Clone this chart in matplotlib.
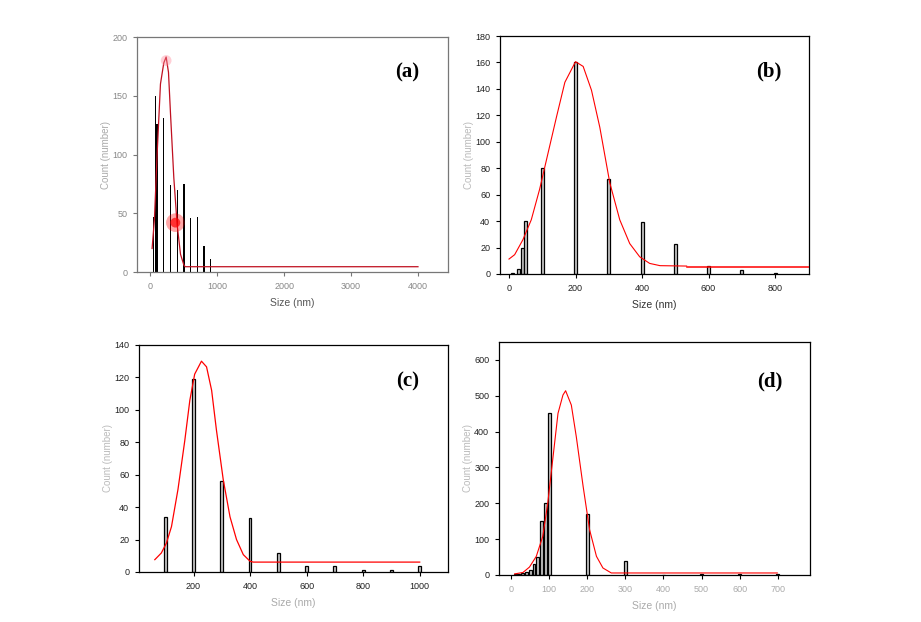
import numpy as np
import matplotlib
matplotlib.use("Agg")
import matplotlib.pyplot as plt

# ---- data ----
# (a)
a_size = [50, 75, 100, 200, 300, 400, 500, 600, 700, 800, 900]
a_count = [47, 150, 126, 131, 74, 70, 75, 46, 47, 22, 11]
a_fit_x = [25, 60, 100, 150, 200, 235, 270, 300, 350, 400, 450, 500, 520, 4000]
a_fit_y = [20, 45, 100, 160, 178, 183, 170, 135, 80, 40, 15, 6, 4.5, 4.5]

# (b)
b_size = [10, 30, 40, 50, 100, 200, 300, 400, 500, 600, 700, 800]
b_count = [1, 4, 20, 40, 80, 160, 72, 39, 23, 6, 3, 1]
b_fit_x = [0, 17, 42, 67, 92, 117, 143, 168, 200, 223, 248, 273, 303, 333,
           363, 393, 423, 454, 534]
b_fit_y = [11.3, 14.6, 26, 41, 64, 91, 119, 145, 160.6, 157, 139, 111, 69,
           41, 23, 13, 8, 6.3, 6]
b_tail_x = [534, 903]
b_tail_y = [5.3, 5.3]

# (c)
c_size = [100, 200, 300, 400, 500, 600, 700, 800, 900, 1000]
c_count = [34, 119, 56, 33, 12, 4, 4, 1.5, 1.5, 3.5]
c_fit_x = [63, 86, 104, 122, 145, 169, 187, 204, 228, 246, 264, 281, 305,
           329, 352, 376, 400, 411, 1000]
c_fit_y = [7.6, 11.7, 17.8, 28, 51, 81, 106, 122, 130, 126.5, 112, 87.5, 57,
           34, 20, 10.7, 6.6, 6.1, 6.1]

# (d)
d_size = [10, 20, 30, 40, 50, 60, 70, 80, 90, 100, 200, 300, 400, 500, 600, 700]
d_count = [3, 4, 5, 8, 15, 31, 50, 150, 200, 453, 170, 40, 1, 2, 2, 2]
d_fit_x = [9, 31, 48, 66, 83, 96, 110, 123, 136, 143, 158, 171, 189, 206,
           224, 241, 263, 699]
d_fit_y = [3, 7, 22, 52, 108, 200, 330, 451, 502, 514, 474, 386, 247, 126,
           52, 19.5, 5.6, 5.6]

plt.rcParams['font.family'] = ['Liberation Sans', 'DejaVu Sans']

fig = plt.figure(figsize=(9.21, 6.22), dpi=100)

def setup(ax, tick_col, xlab_col, ylab_col, spine_col='black'):
    for s in ax.spines.values():
        s.set_color(spine_col)
        s.set_linewidth(0.9)
    ax.tick_params(direction='out', length=3, width=0.8, labelsize=6.5,
                   pad=4, colors=spine_col)
    for lab in ax.get_xticklabels() + ax.get_yticklabels():
        lab.set_color(tick_col)
    ax.set_xlabel('Size (nm)', fontsize=7.5, color=xlab_col, labelpad=5)
    ax.set_ylabel('Count (number)', fontsize=7, color=ylab_col, labelpad=1)

def panel_tag(ax, txt, y=0.84):
    ax.text(0.87, y, txt, transform=ax.transAxes, fontsize=15,
            fontweight='bold', family='Liberation Serif', ha='center', va='center')

# (a)
ax = fig.add_axes([0.1488, 0.5627, 0.3377, 0.3778])
ax.bar(a_size, a_count, width=20, color='black', edgecolor='none', zorder=2)
ax.plot(a_fit_x, a_fit_y, color='#c01020', lw=0.9, zorder=3)
ax.scatter([373], [42], s=180, color='red', alpha=0.35, edgecolors='none', zorder=4)
ax.scatter([373], [42], s=50, color='red', alpha=0.7, edgecolors='none', zorder=4)
ax.scatter([235], [180], s=60, color='#ff8899', alpha=0.4, edgecolors='none', zorder=4)
ax.set_xlim(-200, 4450)
ax.set_ylim(0, 200)
ax.set_xticks([0, 1000, 2000, 3000, 4000])
ax.set_yticks([0, 50, 100, 150, 200])
setup(ax, '#888888', '#555555', '#aaaaaa', spine_col='#777777')
panel_tag(ax, '(a)', 0.85)

# (b)
ax = fig.add_axes([0.5429, 0.5595, 0.3355, 0.3826])
ax.bar(b_size, b_count, width=9, color='#c8c8c8', edgecolor='black', lw=0.9, zorder=2)
ax.plot(b_fit_x, b_fit_y, color='red', lw=0.8, zorder=3)
ax.plot(b_tail_x, b_tail_y, color='red', lw=1.1, zorder=3)
ax.set_xlim(-27, 902)
ax.set_ylim(0, 180)
ax.set_xticks([0, 200, 400, 600, 800])
ax.set_yticks(range(0, 181, 20))
setup(ax, '#222222', '#333333', '#bbbbbb')
panel_tag(ax, '(b)', 0.85)

# (c)
ax = fig.add_axes([0.1509, 0.0804, 0.3355, 0.365])
ax.bar(c_size, c_count, width=10, color='#c8c8c8', edgecolor='black', lw=0.9, zorder=2)
ax.plot(c_fit_x, c_fit_y, color='red', lw=0.9, zorder=3)
ax.set_xlim(7, 1100)
ax.set_ylim(0, 140)
ax.set_xticks([200, 400, 600, 800, 1000])
ax.set_yticks(range(0, 141, 20))
setup(ax, '#222222', '#aaaaaa', '#bbbbbb')
panel_tag(ax, '(c)', 0.84)

# (d)
ax = fig.add_axes([0.5418, 0.0756, 0.3377, 0.3746])
ax.bar(d_size, d_count, width=7, color='#c8c8c8', edgecolor='black', lw=0.9, zorder=2)
ax.plot(d_fit_x, d_fit_y, color='red', lw=0.8, zorder=3)
ax.set_xlim(-32, 785)
ax.set_ylim(0, 650)
ax.set_xticks(range(0, 701, 100))
ax.set_yticks(range(0, 601, 100))
setup(ax, '#222222', '#aaaaaa', '#bbbbbb')
for lab in ax.get_xticklabels():
    lab.set_color('#aaaaaa')
panel_tag(ax, '(d)', 0.83)

fig.savefig('out.png', dpi=100)
